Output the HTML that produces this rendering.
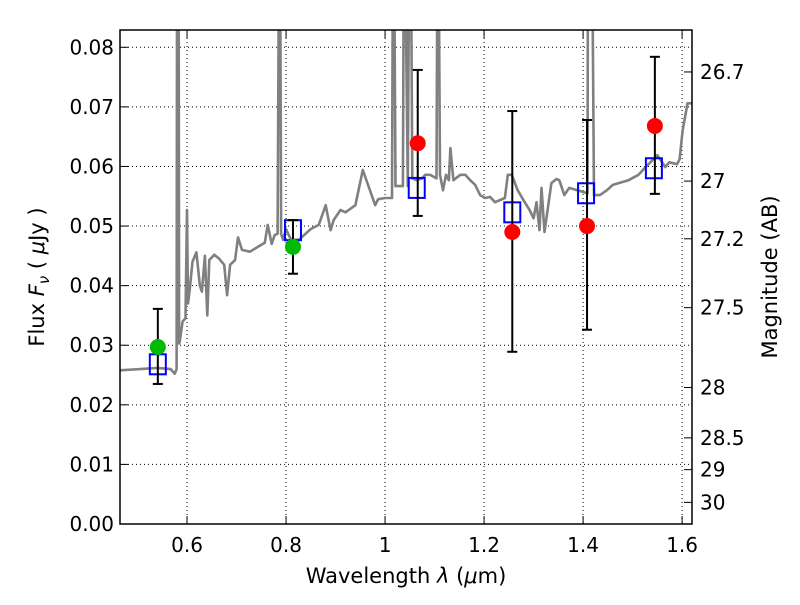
<!DOCTYPE html>
<html><head><meta charset="utf-8"><style>
body{margin:0;background:#fff;}
svg text{font-family:"DejaVu Sans","Liberation Sans",sans-serif;fill:#000;}
</style></head><body>
<svg id="chart" width="800" height="600" viewBox="0 0 800 600" xmlns="http://www.w3.org/2000/svg"></svg>
<script>
// ---- data ----
const specWave=[0.4646,0.505,0.54,0.567,0.575,0.579,0.580,0.583,0.584,0.585,0.591,0.597,0.600,0.602,0.605,0.611,0.619,0.626,0.630,0.636,0.641,0.645,0.655,0.665,0.675,0.681,0.687,0.697,0.703,0.711,0.727,0.743,0.757,0.763,0.771,0.777,0.783,0.786,0.788,0.790,0.794,0.800,0.810,0.826,0.850,0.866,0.880,0.890,0.896,0.910,0.920,0.940,0.955,0.980,0.986,1.000,1.014,1.016,1.018,1.021,1.023,1.030,1.036,1.038,1.040,1.046,1.049,1.052,1.055,1.064,1.075,1.081,1.091,1.104,1.106,1.108,1.111,1.117,1.123,1.129,1.132,1.138,1.152,1.162,1.172,1.182,1.192,1.202,1.212,1.222,1.242,1.248,1.256,1.268,1.282,1.292,1.300,1.306,1.312,1.316,1.322,1.336,1.346,1.352,1.362,1.372,1.409,1.410,1.418,1.422,1.434,1.448,1.460,1.472,1.492,1.512,1.524,1.536,1.550,1.566,1.574,1.590,1.595,1.601,1.611,1.620];
const specFlux=[0.0258,0.0260,0.0262,0.0260,0.0252,0.0260,0.1,0.1,0.0303,0.0305,0.034,0.0345,0.0527,0.037,0.039,0.044,0.0456,0.040,0.039,0.045,0.035,0.0443,0.0452,0.0445,0.0435,0.0384,0.0435,0.0443,0.0481,0.046,0.0457,0.0465,0.0472,0.0502,0.047,0.0485,0.0487,0.1,0.1,0.0487,0.0477,0.0495,0.0477,0.0477,0.0495,0.0502,0.0535,0.0493,0.0510,0.0527,0.0523,0.0535,0.0594,0.0535,0.0545,0.0547,0.0547,0.1,0.1,0.0567,0.0567,0.0567,0.0567,0.1,0.1,0.0567,0.1,0.1,0.0580,0.0577,0.0580,0.0586,0.0586,0.0580,0.1,0.1,0.0586,0.0560,0.0586,0.0577,0.0631,0.0577,0.0586,0.0586,0.0577,0.0569,0.0552,0.0547,0.0549,0.0540,0.0547,0.0586,0.0586,0.0560,0.0540,0.0527,0.0513,0.0540,0.0493,0.0564,0.0490,0.0572,0.0579,0.0577,0.0552,0.0564,0.0555,0.1,0.1,0.0552,0.0552,0.0560,0.0569,0.0572,0.0577,0.0586,0.0597,0.0607,0.0619,0.0599,0.0607,0.0604,0.0612,0.066,0.0706,0.0706];
const ptWave=[0.541,0.814];
const ptFlux=[0.0297,0.0465];
const ptErrLo=[0.0235,0.0420];
const ptErrHi=[0.0361,0.0510];
const redWave=[1.066,1.257,1.408,1.545];
const redFlux=[0.0639,0.0490,0.0500,0.0668];
const redErrLo=[0.0517,0.0289,0.0326,0.0554];
const redErrHi=[0.0762,0.0693,0.0678,0.0784];
const boxWave=[0.541,0.814,1.064,1.257,1.406,1.543];
const boxFlux=[0.0268,0.0493,0.0564,0.0523,0.0555,0.0597];
const xTicks=[0.6,0.8,1.0,1.2,1.4,1.6];
const xTickLabels=["0.6","0.8","1","1.2","1.4","1.6"];
const yTicks=[0,0.01,0.02,0.03,0.04,0.05,0.06,0.07,0.08];
const yTickLabels=["0.00","0.01","0.02","0.03","0.04","0.05","0.06","0.07","0.08"];
const magTicks=[26.7,27,27.2,27.5,28,28.5,29,30];
const magTickLabels=["26.7","27","27.2","27.5","28","28.5","29","30"];
// ---- layout ----
const L=120,R=692,T=30,B=524;
const xMin=0.4646,xMax=1.620,yMin=0,yMax=0.0829;
const X=v=>L+(v-xMin)/(xMax-xMin)*(R-L);
const Y=v=>B-(v-yMin)/(yMax-yMin)*(B-T);
const NS="http://www.w3.org/2000/svg";
const svg=document.getElementById('chart');
function mk(tag,attrs,parent){const e=document.createElementNS(NS,tag);for(const k in attrs)e.setAttribute(k,attrs[k]);(parent||svg).appendChild(e);return e;}
const defs=mk('defs',{});
const cp=mk('clipPath',{id:'clip'},defs);mk('rect',{x:L,y:T,width:R-L,height:B-T},cp);
// grid
xTicks.forEach(t=>{const g=mk('line',{x1:X(t),x2:X(t),y1:T,y2:B,stroke:'#000','stroke-width':1,'stroke-dasharray':'1,3'});

});
yTicks.forEach(t=>{const g=mk('line',{x1:L,x2:R,y1:Y(t),y2:Y(t),stroke:'#000','stroke-width':1,'stroke-dasharray':'1,3'});

});
// spectrum
const grp=mk('g',{'clip-path':'url(#clip)'});
const d=specWave.map((w,i)=>(i?'L':'M')+X(w).toFixed(1)+','+Y(specFlux[i]).toFixed(1)).join('');
const sp=mk('path',{d:d,fill:'none',stroke:'#808080','stroke-width':2.6,'stroke-linejoin':'round'},grp);


// boxes
boxWave.forEach((w,i)=>{const r=mk('rect',{x:X(w)-8,y:Y(boxFlux[i])-10,width:16,height:20,fill:'none',stroke:'#0000ff','stroke-width':2});

});
function errbar(w,lo,hi){const x=X(w);const g=mk('g',{stroke:'#000','stroke-width':2});


mk('line',{x1:x,x2:x,y1:Y(lo),y2:Y(hi)},g);mk('line',{x1:x-5,x2:x+5,y1:Y(lo),y2:Y(lo)},g);mk('line',{x1:x-5,x2:x+5,y1:Y(hi),y2:Y(hi)},g);}
ptWave.forEach((w,i)=>{errbar(w,ptErrLo[i],ptErrHi[i]);const c=mk('circle',{cx:X(w),cy:Y(ptFlux[i]),r:8,fill:'#00bb00'});

});
redWave.forEach((w,i)=>{errbar(w,redErrLo[i],redErrHi[i]);const c=mk('circle',{cx:X(w),cy:Y(redFlux[i]),r:8,fill:'#ff0000'});

});
// frame
const fr=mk('rect',{x:L,y:T,width:R-L,height:B-T,fill:'none',stroke:'#000','stroke-width':1.5});


// ticks
xTicks.forEach((t,i)=>{mk('line',{x1:X(t),x2:X(t),y1:B,y2:B-8,stroke:'#000'});mk('line',{x1:X(t),x2:X(t),y1:T,y2:T+8,stroke:'#000'});
const tx=mk('text',{x:X(t),y:B+28,'font-size':20,'text-anchor':'middle'});tx.textContent=xTickLabels[i];

});
yTicks.forEach((t,i)=>{mk('line',{x1:L,x2:L+8,y1:Y(t),y2:Y(t),stroke:'#000'});
const tx=mk('text',{x:L-6,y:Y(t)+7,'font-size':20,'text-anchor':'end'});tx.textContent=yTickLabels[i];

});
magTicks.forEach((m,i)=>{const f=Math.pow(10,(23.9-m)/2.5);const y=Y(f);mk('line',{x1:R,x2:R-8,y1:y,y2:y,stroke:'#000'});
const tx=mk('text',{x:R+8,y:y+7,'font-size':20});tx.textContent=magTickLabels[i];

});
</script>
<svg style="position:absolute;left:0;top:0" width="800" height="600">
<text x="406" y="583" font-size="21" text-anchor="middle" style="font-family:'DejaVu Sans',sans-serif">Wavelength  <tspan font-style="italic">λ</tspan> (<tspan font-style="italic">μ</tspan>m)</text>
<text transform="translate(44,277) rotate(-90)" font-size="21" text-anchor="middle" style="font-family:'DejaVu Sans',sans-serif">Flux  <tspan font-style="italic">F</tspan><tspan font-style="italic" font-size="15" dy="5">ν</tspan><tspan dy="-5">  ( </tspan><tspan font-style="italic">μ</tspan>Jy )</text>
<text transform="translate(777,277) rotate(-90)" font-size="21" text-anchor="middle" style="font-family:'DejaVu Sans',sans-serif">Magnitude (AB)</text>
</svg>
</body></html>
